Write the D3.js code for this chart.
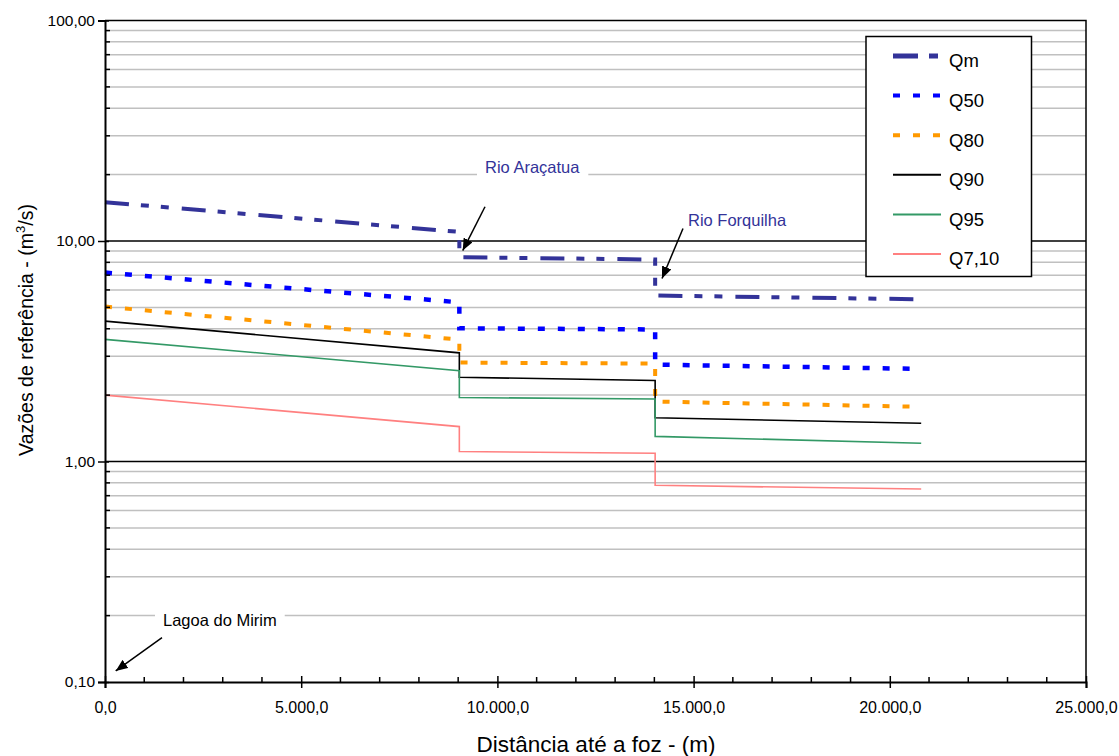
<!DOCTYPE html>
<html>
<head>
<meta charset="utf-8">
<script src="https://cdn.jsdelivr.net/npm/d3@7"></script>
<style>
  html, body { margin: 0; padding: 0; background: #fff; }
  svg { display: block; font-family: "Liberation Sans", Arial, sans-serif; }
</style>
</head>
<body>
<svg id="chart" width="1119" height="756"></svg>
<script>
// Distance from the river mouth (m); steps at the two tributary confluences
const distances = [0, 9030, 9030, 14020, 14020, 20800];

// Reference flows (m³/s) along the river
const qm   = [15.0, 11.0, 8.44, 8.24, 5.66, 5.44];
const q50  = [7.19, 5.27, 4.02, 3.97, 2.75, 2.63];
const q80  = [5.04, 3.57, 2.81, 2.78, 1.87, 1.77];
const q90  = [4.33, 3.11, 2.41, 2.33, 1.58, 1.49];
const q95  = [3.58, 2.58, 1.95, 1.92, 1.30, 1.21];
const q710 = [2.00, 1.44, 1.11, 1.09, 0.78, 0.75];

const seriesNames = ["Qm", "Q50", "Q80", "Q90", "Q95", "Q7,10"];
const seriesValues = [qm, q50, q80, q90, q95, q710];

// Axis ticks and labels
const xMajorTicks = [0, 5000, 10000, 15000, 20000, 25000];
const xTickLabels = ["0,0", "5.000,0", "10.000,0", "15.000,0", "20.000,0", "25.000,0"];
const yMajorTicks = [0.1, 1, 10, 100];
const yTickLabels = ["0,10", "1,00", "10,00", "100,00"];

// Callouts: label text, label anchor, arrow tail and arrow tip (data units)
const calloutText  = ["Rio Araçatua", "Rio Forquilha", "Lagoa do Mirim"];
const calloutLabel = [[9684, 21.5], [14857, 12.4], [1478, 0.19]];
const calloutTail  = [[9684, 14.3], [14730, 11.4], [1453, 0.159]];
const calloutTip   = [[9116, 9.05], [14195, 6.76], [273, 0.1123]];

// Per-series line styles
const styles = [
  { color: "#333399", width: 4,   dash: "24,12,8,12,8,13" },
  { color: "#0000ff", width: 4.5, dash: "7,13" },
  { color: "#ff9900", width: 4,   dash: "7,13" },
  { color: "#000000", width: 1.6, dash: null },
  { color: "#339966", width: 1.6, dash: null },
  { color: "#ff8080", width: 1.6, dash: null }
];

const svg = d3.select("#chart");
const plotLeft = 105, plotRight = 1086, plotTop = 20.5, plotBottom = 682;

const x = d3.scaleLinear().domain([0, 25000]).range([plotLeft, plotRight]);
const y = d3.scaleLog().domain([0.1, 100]).range([plotBottom, plotTop]);

// Minor values 2..9 in each decade
const minorY = [];
[0.1, 1, 10].forEach(d => { for (let k = 2; k <= 9; k++) minorY.push(+(d * k).toPrecision(3)); });
const minorX = d3.range(0, 25001, 1000).filter(v => v % 5000 !== 0);

const grid = svg.append("g");
grid.selectAll("line.minor").data(minorY).join("line")
  .attr("x1", plotLeft).attr("x2", plotRight)
  .attr("y1", d => y(d)).attr("y2", d => y(d))
  .attr("stroke", "#c0c0c0").attr("stroke-width", 1.5);
grid.selectAll("line.major").data([1, 10]).join("line")
  .attr("x1", plotLeft).attr("x2", plotRight)
  .attr("y1", d => y(d)).attr("y2", d => y(d))
  .attr("stroke", "#000").attr("stroke-width", 1.5);

// Frame (top and right)
svg.append("path")
  .attr("d", `M${plotLeft},${plotTop}H${plotRight}V${plotBottom}`)
  .attr("fill", "none").attr("stroke", "#000").attr("stroke-width", 1.5);

// Callout label backgrounds and texts
const callouts = svg.append("g");
calloutText.forEach((t, i) => {
  const g = callouts.append("g");
  const bg = g.append("rect").attr("fill", "#fff");
  const txt = g.append("text")
    .attr("x", x(calloutLabel[i][0]))
    .attr("y", y(calloutLabel[i][1]))
    .attr("dy", "0.35em")
    .attr("font-size", 16.5)
    .attr("fill", i < 2 ? "#333399" : "#000")
    .text(t);
  const b = txt.node().getBBox();
  bg.attr("x", b.x - 8).attr("y", b.y).attr("width", b.width + 16).attr("height", b.height);
});

// Series lines
const line = d3.line().x((d, i) => x(distances[i])).y(d => y(d));
const lines = svg.append("g");
seriesValues.forEach((vals, i) => {
  lines.append("path")
    .datum(vals)
    .attr("d", line)
    .attr("fill", "none")
    .attr("stroke", styles[i].color)
    .attr("stroke-width", styles[i].width)
    .attr("stroke-dasharray", styles[i].dash)
    .attr("stroke-linecap", "butt")
    .attr("stroke-linejoin", "miter");
});

// Arrow marker
svg.append("defs").append("marker")
  .attr("id", "arrow").attr("viewBox", "0 0 12 10")
  .attr("refX", 12).attr("refY", 5)
  .attr("markerWidth", 12).attr("markerHeight", 10)
  .attr("markerUnits", "userSpaceOnUse").attr("orient", "auto")
  .append("path").attr("d", "M0,0L12,5L0,10Z").attr("fill", "#000");

calloutText.forEach((t, i) => {
  callouts.append("line")
    .attr("x1", x(calloutTail[i][0])).attr("y1", y(calloutTail[i][1]))
    .attr("x2", x(calloutTip[i][0])).attr("y2", y(calloutTip[i][1]))
    .attr("stroke", "#000").attr("stroke-width", 1.5)
    .attr("marker-end", "url(#arrow)");
});

// Y axis: major ticks with labels, minor ticks inside
const yAxis = svg.append("g").attr("transform", `translate(${plotLeft},0)`)
  .call(d3.axisLeft(y).tickValues(yMajorTicks).tickSize(7).tickPadding(3)
    .tickFormat((d, i) => yTickLabels[i]));
yAxis.select(".domain").attr("stroke-width", 2);
yAxis.selectAll(".tick line").attr("stroke-width", 1.5).attr("x2", -7).attr("x1", 4);
yAxis.selectAll("text").attr("font-size", 15.5).attr("fill", "#000");
svg.append("g").selectAll("line").data(minorY).join("line")
  .attr("x1", plotLeft).attr("x2", plotLeft + 5)
  .attr("y1", d => y(d)).attr("y2", d => y(d))
  .attr("stroke", "#000").attr("stroke-width", 1.5);

// X axis: major ticks crossing, minor ticks inside
const xAxis = svg.append("g").attr("transform", `translate(0,${plotBottom})`)
  .call(d3.axisBottom(x).tickValues(xMajorTicks).tickSize(6).tickPadding(14)
    .tickFormat((d, i) => xTickLabels[i]));
xAxis.select(".domain").attr("stroke-width", 2);
xAxis.selectAll(".tick line").attr("stroke-width", 1.5).attr("y1", -6).attr("y2", 6);
xAxis.selectAll("text").attr("font-size", 16).attr("fill", "#000");
svg.append("g").selectAll("line").data(minorX).join("line")
  .attr("x1", d => x(d)).attr("x2", d => x(d))
  .attr("y1", plotBottom).attr("y2", plotBottom - 5)
  .attr("stroke", "#000").attr("stroke-width", 1.5);

// Axis titles
svg.append("text")
  .attr("x", 596).attr("y", 752)
  .attr("text-anchor", "middle").attr("font-size", 22.5)
  .text("Distância até a foz - (m)");
svg.append("text")
  .attr("transform", "translate(33,330) rotate(-90)")
  .attr("text-anchor", "middle").attr("font-size", 19.5)
  .html("Vazões de referência - (m<tspan dy='-8' font-size='13'>3</tspan><tspan dy='8'>/s)</tspan>");

// Legend
const legend = svg.append("g");
legend.append("rect")
  .attr("x", 866).attr("y", 36.5).attr("width", 165.5).attr("height", 240)
  .attr("fill", "#fff").attr("stroke", "#000").attr("stroke-width", 1.5);
seriesNames.forEach((name, i) => {
  const cy = 56 + i * 39.6;
  legend.append("line")
    .attr("x1", 893).attr("x2", 941).attr("y1", cy).attr("y2", cy)
    .attr("stroke", styles[i].color)
    .attr("stroke-width", i < 3 ? (i === 0 ? 5 : 4) : 2)
    .attr("stroke-dasharray", i === 0 ? "25,11,9,20" : styles[i].dash);
  legend.append("text")
    .attr("x", 949).attr("y", cy + 5).attr("dy", "0.35em")
    .attr("font-size", 18.5).text(name);
});
</script>
</body>
</html>
